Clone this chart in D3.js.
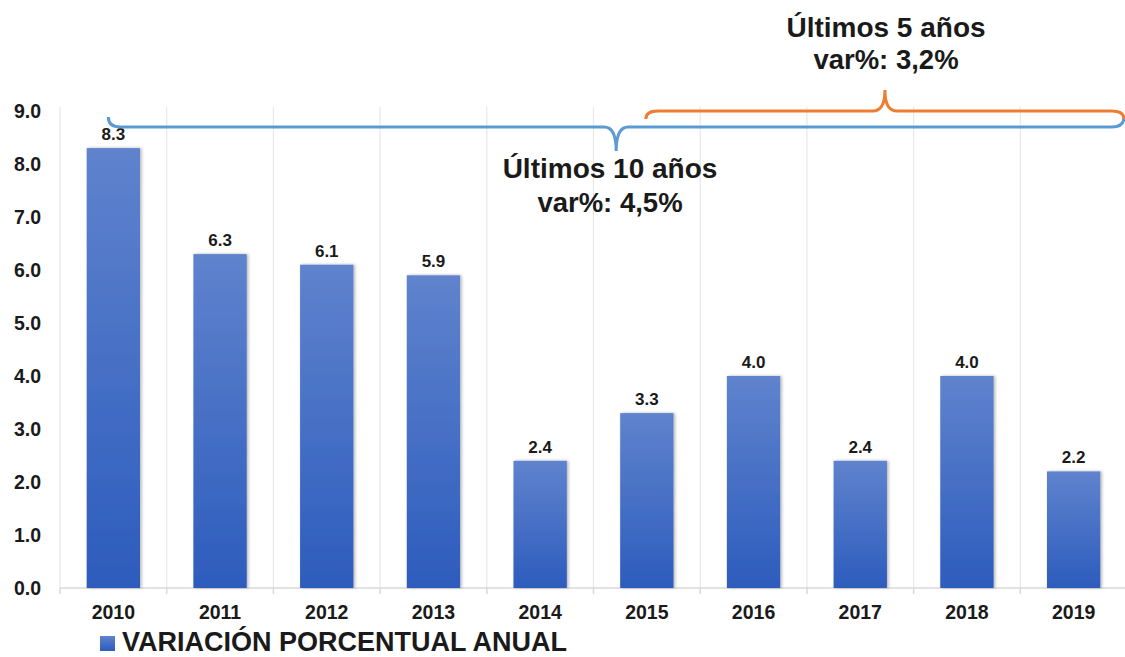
<!DOCTYPE html>
<html>
<head>
<meta charset="utf-8">
<script src="https://cdn.jsdelivr.net/npm/d3@7"></script>
<style>
  body { margin: 0; background: #fff; }
  svg { font-family: "Liberation Sans", Arial, sans-serif; }
</style>
</head>
<body>
<svg id="chart" width="1125" height="657"></svg>
<script>
var years = ["2010", "2011", "2012", "2013", "2014", "2015", "2016", "2017", "2018", "2019"];
var values = [8.3, 6.3, 6.1, 5.9, 2.4, 3.3, 4.0, 2.4, 4.0, 2.2];
var yTicks = [0, 1, 2, 3, 4, 5, 6, 7, 8, 9];
var legendLabel = "VARIACIÓN PORCENTUAL ANUAL";
var braces = [
  { from: "2010", to: "2019", title: "Últimos 10 años", sub: "var%: 4,5%", color: "#5b9bd5" },
  { from: "2015", to: "2019", title: "Últimos 5 años", sub: "var%: 3,2%", color: "#ed7d31" }
];

var svg = d3.select("#chart");

var x = d3.scaleBand()
  .domain(years)
  .range([60, 1127])
  .paddingInner(0)
  .paddingOuter(0);

var y = d3.scaleLinear()
  .domain([0, 9])
  .range([588, 111]);

var defs = svg.append("defs");
var grad = defs.append("linearGradient")
  .attr("id", "barGrad")
  .attr("x1", 0).attr("y1", 0).attr("x2", 0).attr("y2", 1);
grad.append("stop").attr("offset", "0%").attr("stop-color", "#5f83cd");
grad.append("stop").attr("offset", "100%").attr("stop-color", "#2d5cbd");

var shadow = defs.append("filter").attr("id", "shadow")
  .attr("x", "-20%").attr("y", "-5%").attr("width", "140%").attr("height", "110%");
shadow.append("feDropShadow")
  .attr("dx", 1.5).attr("dy", 0).attr("stdDeviation", 1.5)
  .attr("flood-color", "#000").attr("flood-opacity", 0.3);

// vertical gridlines at band boundaries
var bounds = years.map(function(d) { return x(d); }).concat([x.range()[1]]);
svg.append("g")
  .selectAll("line")
  .data(bounds)
  .enter().append("line")
  .attr("x1", function(d) { return d; })
  .attr("x2", function(d) { return d; })
  .attr("y1", y(9) - 4)
  .attr("y2", y(0))
  .attr("stroke", "#e8e8e8")
  .attr("stroke-width", 1.2);

// axis line and ticks
svg.append("line")
  .attr("x1", x.range()[0]).attr("x2", x.range()[1])
  .attr("y1", y(0)).attr("y2", y(0))
  .attr("stroke", "#d9d9d9").attr("stroke-width", 1.5);
svg.append("g")
  .selectAll("line")
  .data(bounds)
  .enter().append("line")
  .attr("x1", function(d) { return d; })
  .attr("x2", function(d) { return d; })
  .attr("y1", y(0))
  .attr("y2", y(0) + 6)
  .attr("stroke", "#d9d9d9").attr("stroke-width", 1.5);

// y labels
svg.append("g")
  .selectAll("text")
  .data(yTicks)
  .enter().append("text")
  .attr("x", 41)
  .attr("y", function(d) { return y(d); })
  .attr("dy", "0.36em")
  .attr("text-anchor", "end")
  .attr("font-size", 19.5)
  .attr("font-weight", "bold")
  .attr("fill", "#1a1a1a")
  .text(function(d) { return d.toFixed(1); });

// x labels
svg.append("g")
  .selectAll("text")
  .data(years)
  .enter().append("text")
  .attr("x", function(d) { return x(d) + x.bandwidth() / 2; })
  .attr("y", 619)
  .attr("text-anchor", "middle")
  .attr("font-size", 19.5)
  .attr("font-weight", "bold")
  .attr("fill", "#1a1a1a")
  .text(function(d) { return d; });

// bars
var barW = x.bandwidth() * 0.5;
svg.append("g")
  .selectAll("rect")
  .data(values)
  .enter().append("rect")
  .attr("x", function(d, i) { return x(years[i]) + (x.bandwidth() - barW) / 2; })
  .attr("y", function(d) { return y(d); })
  .attr("width", barW)
  .attr("height", function(d) { return y(0) - y(d); })
  .attr("fill", "url(#barGrad)")
  .attr("filter", "url(#shadow)");

// value labels
svg.append("g")
  .selectAll("text")
  .data(values)
  .enter().append("text")
  .attr("x", function(d, i) { return x(years[i]) + x.bandwidth() / 2; })
  .attr("y", function(d) { return y(d) - 8; })
  .attr("text-anchor", "middle")
  .attr("font-size", 17)
  .attr("font-weight", "bold")
  .attr("fill", "#1a1a1a")
  .text(function(d) { return d.toFixed(1); });

// braces
function bracePath(x0, x1, yLine, yEnd, yTip) {
  var r = 12, xm = (x0 + x1) / 2, p = d3.path();
  p.moveTo(x0, yEnd);
  p.quadraticCurveTo(x0, yLine, x0 + r, yLine);
  p.lineTo(xm - r, yLine);
  p.quadraticCurveTo(xm, yLine, xm, yTip);
  p.quadraticCurveTo(xm, yLine, xm + r, yLine);
  p.lineTo(x1 - r, yLine);
  p.quadraticCurveTo(x1, yLine, x1, yEnd);
  return p.toString();
}

var bBlue = braces[0], bOrange = braces[1];
var bx0 = x(bBlue.from) + x.bandwidth() / 2 - 5, bx1 = x.range()[1] - 3;
svg.append("path")
  .attr("d", bracePath(bx0, bx1, 127, 117, 151))
  .attr("fill", "none").attr("stroke", bBlue.color).attr("stroke-width", 3);
var ox0 = x(bOrange.from) + x.bandwidth() / 2 - 1, ox1 = x.range()[1] - 3;
svg.append("path")
  .attr("d", bracePath(ox0, ox1, 111, 119, 90))
  .attr("fill", "none").attr("stroke", bOrange.color).attr("stroke-width", 3);

function braceText(b, cx, y1, y2) {
  svg.append("text")
    .attr("x", cx).attr("y", y1)
    .attr("text-anchor", "middle").attr("font-size", 28).attr("font-weight", "bold")
    .attr("fill", "#1a1a1a").text(b.title);
  svg.append("text")
    .attr("x", cx).attr("y", y2)
    .attr("text-anchor", "middle").attr("font-size", 27.5).attr("font-weight", "bold")
    .attr("fill", "#1a1a1a").text(b.sub);
}
braceText(bBlue, 610, 178, 212);
braceText(bOrange, 886, 37, 69);

// legend
svg.append("rect")
  .attr("x", 100).attr("y", 636).attr("width", 15).attr("height", 15)
  .attr("fill", "url(#barGrad)");
svg.append("text")
  .attr("x", 122).attr("y", 651)
  .attr("font-size", 27).attr("font-weight", "bold").attr("fill", "#1a1a1a")
  .text(legendLabel);
</script>
</body>
</html>
